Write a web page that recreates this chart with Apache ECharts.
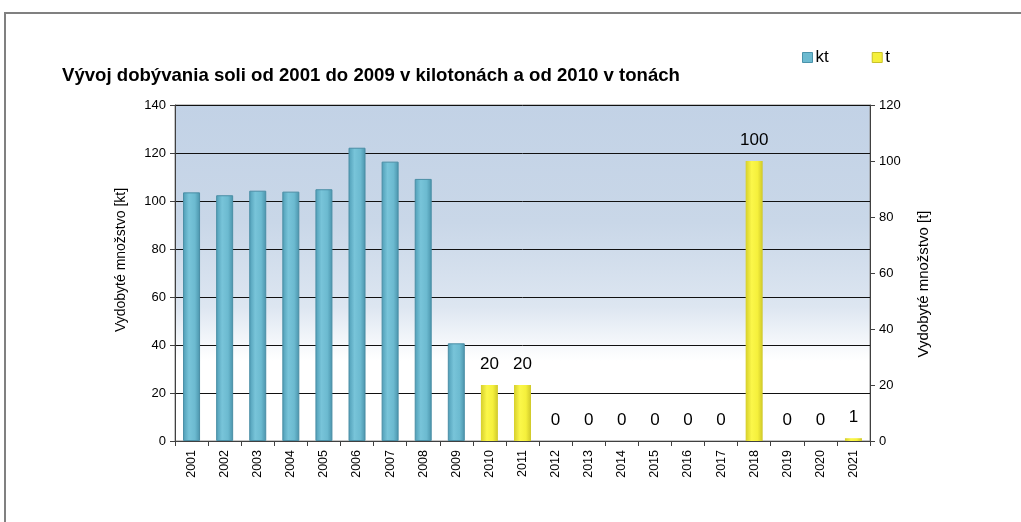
<!DOCTYPE html>
<html lang="sk">

<head>
  <meta charset="utf-8" />
  <title></title>
  <script src="https://cdn.jsdelivr.net/npm/echarts@6/dist/echarts.min.js"></script>
  <style>
    * {
      margin: 0;
      padding: 0;
    }

    #chart-container {
      position: relative;
      width: 1021px;
      height: 522px;
      overflow: hidden;
      background: #fff;
    }
  </style>
</head>

<body>
  <div id="chart-container"></div>

  <script>
    // roky
    var years = ['2001', '2002', '2003', '2004', '2005', '2006', '2007', '2008', '2009', '2010', '2011',
      '2012', '2013', '2014', '2015', '2016', '2017', '2018', '2019', '2020', '2021'];
    // kilotony (2001 - 2009)
    var ktData = [103.6, 102.4, 104.3, 103.9, 104.9, 122.2, 116.4, 109.2, 40.7,
      null, null, null, null, null, null, null, null, null, null, null, null];
    // tony (od 2010)
    var tData = [null, null, null, null, null, null, null, null, null,
      20, 20, 0, 0, 0, 0, 0, 0, 100, 0, 0, 1];

    var titleText = 'Vývoj dobývania soli od 2001 do 2009 v kilotonách a od 2010 v tonách';
    var leftName = 'Vydobyté množstvo [kt]';
    var rightName = 'Vydobyté množstvo [t]';
  </script>

  <script>
    var dom = document.getElementById("chart-container");
    var myChart = echarts.init(dom, null, {
      renderer: "canvas",
      useDirtyRect: false,
    });

    var font = "'Liberation Sans', Arial, sans-serif";

    var blueBar = new echarts.graphic.LinearGradient(0, 0, 1, 0, [
      { offset: 0, color: '#4f9db6' },
      { offset: 0.35, color: '#78c4d9' },
      { offset: 0.7, color: '#6cbad0' },
      { offset: 1, color: '#4a93ab' },
    ]);
    var yellowBar = new echarts.graphic.LinearGradient(0, 0, 1, 0, [
      { offset: 0, color: '#d6cf2c' },
      { offset: 0.35, color: '#fbf74a' },
      { offset: 0.7, color: '#f5f03c' },
      { offset: 1, color: '#cfc82a' },
    ]);

    var option = {
      backgroundColor: '#fff',
      textStyle: { fontFamily: font },
      animation: false,
      graphic: [
        {
          type: 'rect',
          shape: { x: 5, y: 13, width: 1100, height: 600 },
          style: { fill: 'none', stroke: '#808080', lineWidth: 2 },
          z: -1,
        },
      ],
      title: {
        text: titleText,
        left: 57,
        top: 61,
        textStyle: { fontFamily: font, fontSize: 18.6, fontWeight: 'bold', color: '#000' },
      },
      legend: {
        left: 797,
        top: 44,
        itemWidth: 10,
        itemHeight: 10,
        itemGap: 43,
        textStyle: { fontFamily: font, fontSize: 17, color: '#000', padding: [0, 0, 0, -2] },
        data: [
          { name: 'kt', icon: 'rect', itemStyle: { color: '#6cbad0', borderColor: '#4a93ab', borderWidth: 1 } },
          { name: 't', icon: 'rect', itemStyle: { color: '#f5f03c', borderColor: '#c8c12a', borderWidth: 1 } },
        ],
      },
      grid: {
        left: 175,
        right: 151,
        top: 105,
        bottom: 81,
        show: true,
        borderColor: '#8a8a8a',
        borderWidth: 1,
        backgroundColor: new echarts.graphic.LinearGradient(0, 0, 0, 1, [
          { offset: 0, color: '#c2d2e6' },
          { offset: 0.35, color: '#c9d7e8' },
          { offset: 0.6, color: '#dde6f1' },
          { offset: 0.7, color: '#f3f6fa' },
          { offset: 0.76, color: '#ffffff' },
          { offset: 1, color: '#ffffff' },
        ]),
      },
      xAxis: {
        type: 'category',
        data: years,
        axisLine: { lineStyle: { color: '#404040', width: 1 } },
        axisTick: { show: true, length: 5, lineStyle: { color: '#404040' } },
        axisLabel: { rotate: 90, fontSize: 12.5, color: '#000', margin: 9, fontFamily: font },
      },
      yAxis: [
        {
          type: 'value',
          min: 0,
          max: 140,
          interval: 20,
          name: leftName,
          nameLocation: 'middle',
          nameGap: 47,
          nameTextStyle: { fontSize: 14, color: '#000', fontFamily: font, padding: [0, 0, 0, 26] },
          axisLine: { show: true, lineStyle: { color: '#404040', width: 1 } },
          axisTick: { show: true, length: 5, lineStyle: { color: '#404040' } },
          axisLabel: { fontSize: 13, color: '#000', margin: 9, fontFamily: font },
          splitLine: { lineStyle: { color: '#111', width: 1 } },
        },
        {
          type: 'value',
          min: 0,
          max: 120,
          interval: 20,
          position: 'right',
          name: rightName,
          nameLocation: 'middle',
          nameGap: 46,
          nameTextStyle: { fontSize: 15, color: '#000', fontFamily: font, padding: [0, 22, 0, 0] },
          axisLine: { show: true, lineStyle: { color: '#404040', width: 1 } },
          axisTick: { show: true, length: 5, lineStyle: { color: '#404040' } },
          axisLabel: { fontSize: 13, color: '#000', margin: 9, fontFamily: font },
          splitLine: { show: false },
        },
      ],
      series: [
        {
          name: 'kt',
          type: 'bar',
          yAxisIndex: 0,
          data: ktData,
          barWidth: 17,
          barGap: '-100%',
          itemStyle: { color: blueBar, borderColor: '#4a8ea5', borderWidth: 1 },
        },
        {
          name: 't',
          type: 'bar',
          yAxisIndex: 1,
          data: tData,
          barWidth: 17,
          itemStyle: { color: yellowBar, borderWidth: 0 },
          label: {
            show: true,
            position: 'top',
            distance: 12,
            fontSize: 17,
            color: '#000',
            fontFamily: font,
          },
        },
      ],
    };

    if (option && typeof option === "object") {
      myChart.setOption(option);
    }

    window.addEventListener("resize", myChart.resize);
  </script>
</body>

</html>
